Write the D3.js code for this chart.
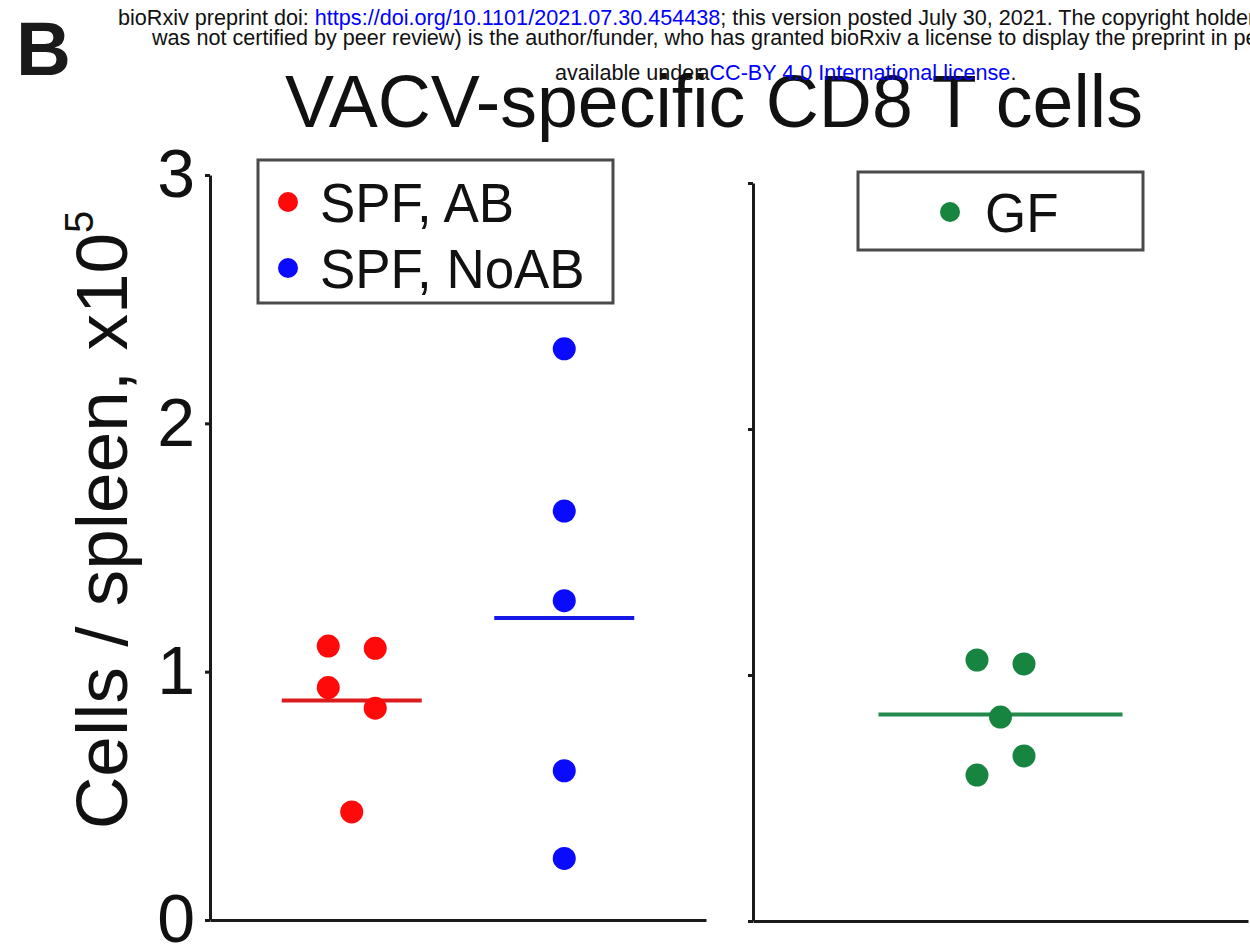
<!DOCTYPE html>
<html>
<head>
<meta charset="utf-8">
<script src="https://cdn.jsdelivr.net/npm/d3@7"></script>
<style>
  html, body { margin: 0; padding: 0; background: #ffffff; }
  svg { display: block; font-family: "Liberation Sans", Arial, Helvetica, sans-serif; }
</style>
</head>
<body>
<svg id="chart" width="1250" height="950"></svg>
<script>
// VACV-specific CD8 T cells per spleen (x10^5), one dot per mouse.
const leftGroups = ["SPF, AB", "SPF, NoAB"];
const rightGroups = ["GF"];

const spfAbValues   = [1.103, 1.094, 0.936, 0.853, 0.435];
const spfNoAbValues = [2.300, 1.647, 1.286, 0.601, 0.248];
const gfValues      = [1.061, 1.045, 0.829, 0.671, 0.593];

// swarm column of each dot inside its group: L = left, C = centre, R = right
const spfAbColumn   = ["L", "R", "L", "R", "C"];
const spfNoAbColumn = ["C", "C", "C", "C", "C"];
const gfColumn      = ["L", "R", "C", "R", "L"];

const yTicks = [0, 1, 2, 3];

const groupColor = { "SPF, AB": "#ff0a0a", "SPF, NoAB": "#0a0aff", "GF": "#17843f" };
const meanColor  = { "SPF, AB": "#dc1c1c", "SPF, NoAB": "#1616e6", "GF": "#23894c" };

const svg = d3.select("#chart");
const FONT = '"Liberation Sans", Arial, Helvetica, sans-serif';

// ---- scales ----
const yLeft  = d3.scaleLinear().domain([0, 3]).range([920, 175]);
const yRight = d3.scaleLinear().domain([0, 3]).range([921, 183]);
const xLeft  = d3.scalePoint().domain(leftGroups).range([210, 706]).padding(0.667);
const xRight = d3.scalePoint().domain(rightGroups).range([753, 1248]).padding(0.5);
const column = d3.scaleOrdinal().domain(["L", "C", "R"]).range([-23.5, 0, 23.5]);

// ---- title ----
svg.append("text")
  .attr("x", 714).attr("y", 127)
  .attr("text-anchor", "middle")
  .attr("font-size", 73.5)
  .attr("fill", "#111")
  .text("VACV-specific CD8 T cells");

// ---- preprint banner (drawn over the title) ----
svg.append("text")
  .attr("x", 16).attr("y", 75)
  .attr("font-size", 76).attr("font-weight", "bold")
  .attr("fill", "#1a1a1a")
  .text("B");

const banner = svg.append("g").attr("font-size", 21.6).attr("fill", "#111");
const l1 = banner.append("text").attr("x", 118).attr("y", 25);
l1.append("tspan").text("bioRxiv preprint doi: ");
l1.append("tspan").attr("fill", "#0000ff").text("https://doi.org/10.1101/2021.07.30.454438");
l1.append("tspan").text("; this version posted July 30, 2021. The copyright holder for this preprint (which");
banner.append("text").attr("x", 152).attr("y", 45)
  .text("was not certified by peer review) is the author/funder, who has granted bioRxiv a license to display the preprint in perpetuity. It is made");
const l3 = banner.append("text").attr("x", 555).attr("y", 80);
l3.append("tspan").text("available under");
l3.append("tspan").attr("dx", -4).text("a");
l3.append("tspan").attr("fill", "#0000ff").text("CC-BY 4.0 International license");
l3.append("tspan").text(".");

// ---- axes ----
function styleAxis(g) {
  g.selectAll("path.domain").attr("stroke", "#1a1a1a").attr("stroke-width", 3);
  g.selectAll(".tick line").attr("stroke", "#1a1a1a").attr("stroke-width", 3);
}

svg.append("g")
  .attr("transform", "translate(210,0)")
  .call(d3.axisLeft(yLeft).tickValues(yTicks).tickSize(5).tickSizeOuter(0).tickPadding(10).tickFormat(d3.format("d")))
  .call(styleAxis)
  .call(g => g.selectAll(".tick text").attr("font-size", 68).attr("font-family", FONT).attr("fill", "#111"));

svg.append("g")
  .attr("transform", "translate(0,920)")
  .call(d3.axisBottom(xLeft).tickValues([]).tickSizeOuter(0))
  .call(styleAxis);

svg.append("g")
  .attr("transform", "translate(753,0)")
  .call(d3.axisLeft(yRight).tickValues(yTicks).tickSize(5).tickSizeOuter(0).tickFormat(""))
  .call(styleAxis);

svg.append("g")
  .attr("transform", "translate(0,921)")
  .call(d3.axisBottom(xRight).tickValues([]).tickSizeOuter(0))
  .call(styleAxis);

// ---- y axis title ----
const yTitle = svg.append("text")
  .attr("transform", "translate(127,520) rotate(-90)")
  .attr("text-anchor", "middle")
  .attr("font-size", 73)
  .attr("fill", "#111");
yTitle.append("tspan").text("Cells / spleen, x10");
yTitle.append("tspan").attr("font-size", 40).attr("dy", -34).text("5");

// ---- dots and mean lines ----
function drawGroup(name, values, cols, x, y, halfWidth) {
  const g = svg.append("g");
  const rows = values.map((v, i) => ({ v, c: cols[i] }));
  const m = d3.mean(values);
  g.append("line")
    .attr("x1", x(name) - halfWidth).attr("x2", x(name) + halfWidth)
    .attr("y1", y(m)).attr("y2", y(m))
    .attr("stroke", meanColor[name]).attr("stroke-width", 4);
  g.selectAll("circle").data(rows).join("circle")
    .attr("cx", d => x(name) + column(d.c))
    .attr("cy", d => y(d.v))
    .attr("r", 11.5)
    .attr("fill", groupColor[name]);
}

drawGroup("SPF, AB", spfAbValues, spfAbColumn, xLeft, yLeft, 70);
drawGroup("SPF, NoAB", spfNoAbValues, spfNoAbColumn, xLeft, yLeft, 70);
drawGroup("GF", gfValues, gfColumn, xRight, yRight, 122);

// ---- legends ----
function legend(items, box, rowStep) {
  const g = svg.append("g");
  g.append("rect")
    .attr("x", box.x).attr("y", box.y).attr("width", box.w).attr("height", box.h)
    .attr("fill", "#fff").attr("stroke", "#4a4a4a").attr("stroke-width", 3);
  items.forEach((name, i) => {
    const cy = box.firstRow + i * rowStep;
    g.append("circle")
      .attr("cx", box.dotX).attr("cy", cy).attr("r", 10)
      .attr("fill", groupColor[name]);
    g.append("text")
      .attr("transform", `translate(${box.textX},${cy + 20}) scale(0.945,1)`)
      .attr("font-size", 56)
      .attr("fill", "#111")
      .text(name);
  });
}

legend(leftGroups, { x: 258, y: 160, w: 355, h: 143, dotX: 288, textX: 320, firstRow: 202 }, 66);
legend(rightGroups, { x: 858, y: 172, w: 285, h: 78, dotX: 950, textX: 985, firstRow: 212 }, 66);
</script>
</body>
</html>
